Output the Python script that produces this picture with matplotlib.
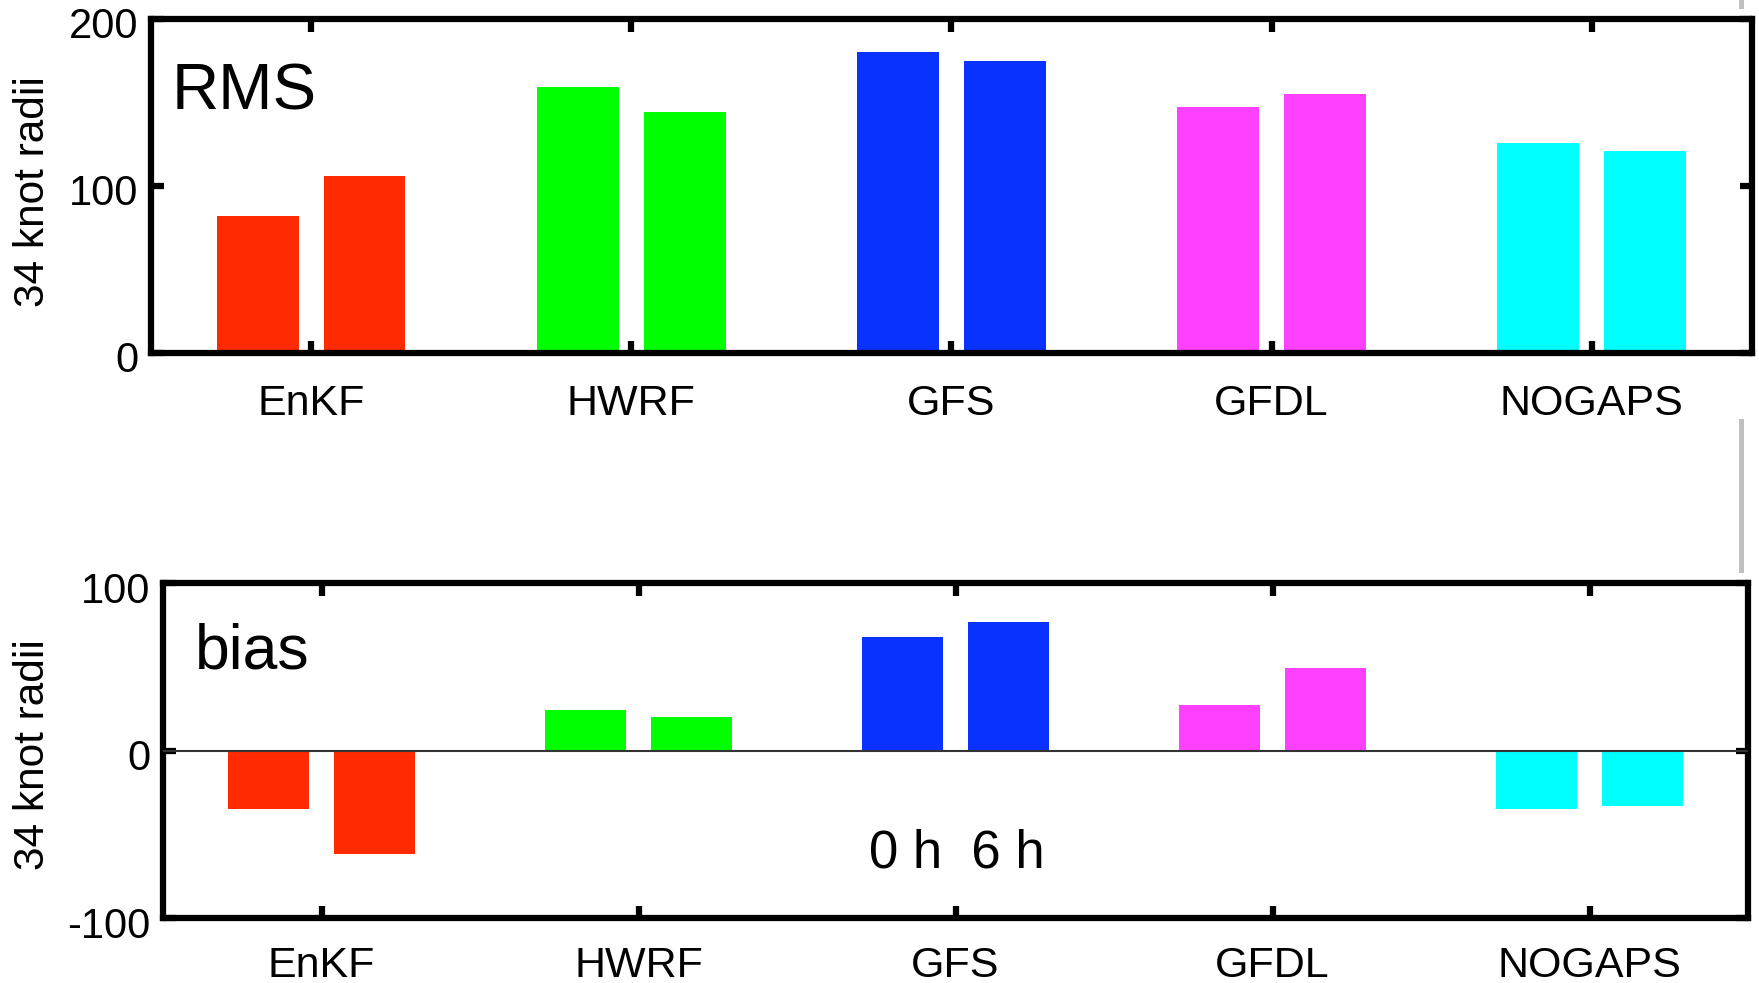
import matplotlib
matplotlib.use('Agg')
import matplotlib.pyplot as plt
import matplotlib.transforms as mtransforms
from matplotlib.lines import Line2D
import numpy as np

plt.rcParams['font.family'] = ['Liberation Sans', 'DejaVu Sans']
plt.rcParams['axes.unicode_minus'] = False

models = ['EnKF', 'HWRF', 'GFS', 'GFDL', 'NOGAPS']
colors = ['#FF2A00', '#00FF00', '#0A32FF', '#FF40FF', '#00FFFF']

rms_0h = [82, 159, 180, 147, 126]
rms_6h = [106, 144, 175, 155, 121]
bias_0h = [-35, 24, 68, 27, -35]
bias_6h = [-62, 20, 77, 49, -33]

x = np.arange(1, len(models) + 1)
OFF = 0.167
W = 0.256

fig = plt.figure(figsize=(17.59, 9.83), dpi=100)
ax1 = fig.add_axes([0.0858, 0.6409, 0.9102, 0.3398])
ax2 = fig.add_axes([0.0927, 0.0661, 0.9011, 0.3408])


def style(ax, yticks, xpad):
    ax.set_xlim(0.5, 5.5)
    ax.set_xticks(x)
    ax.set_xticklabels(models)
    ax.set_yticks(yticks)
    ax.set_ylim(yticks[0], yticks[-1])
    for s in ax.spines.values():
        s.set_linewidth(4.5)
    ax.tick_params(direction='in', top=True, right=True, length=9, width=4.5)
    ax.tick_params(axis='x', pad=xpad, labelsize=31)
    ax.tick_params(axis='y', pad=9, labelsize=30)
    # matlab puts the y labels a touch lower than the tick
    shift = mtransforms.ScaledTranslation(0, -0.04, fig.dpi_scale_trans)
    for lab in ax.get_yticklabels():
        lab.set_transform(lab.get_transform() + shift)


## RMS panel
ax1.bar(x - OFF, rms_0h, W, color=colors, zorder=2)
ax1.bar(x + OFF, rms_6h, W, color=colors, zorder=2)
style(ax1, [0, 100, 200], 22)
ax1.text(0.013, 0.7275, 'RMS', transform=ax1.transAxes, fontsize=47,
         va='baseline', ha='left')

## bias panel
ax2.bar(x - OFF, bias_0h, W, color=colors, zorder=2)
ax2.bar(x + OFF, bias_6h, W, color=colors, zorder=2)
ax2.axhline(0, color='#333333', lw=1.5, zorder=3)
style(ax2, [-100, 0, 100], 20)
ax2.text(0.02, 0.746, 'bias', transform=ax2.transAxes, fontsize=45,
         va='baseline', ha='left')
ax2.text(0.501, 0.152, '0 h  6 h', transform=ax2.transAxes, fontsize=38,
         va='baseline', ha='center')

fig.text(33 / 1759, 1 - 192 / 983, '34 knot radii', rotation=90,
         ha='center', va='center', fontsize=30.5)
fig.text(33 / 1759, 1 - 755 / 983, '34 knot radii', rotation=90,
         ha='center', va='center', fontsize=30.5)

# light gray slivers at the right edge
fig.add_artist(Line2D([0.9898, 0.9898], [1.0, 1 - 6 / 983], color='#C0C0C0', lw=3.6))
fig.add_artist(Line2D([0.9898, 0.9898], [1 - 421 / 983, 1 - 570 / 983], color='#C0C0C0', lw=3.6))

fig.savefig('out.png', dpi=100)
